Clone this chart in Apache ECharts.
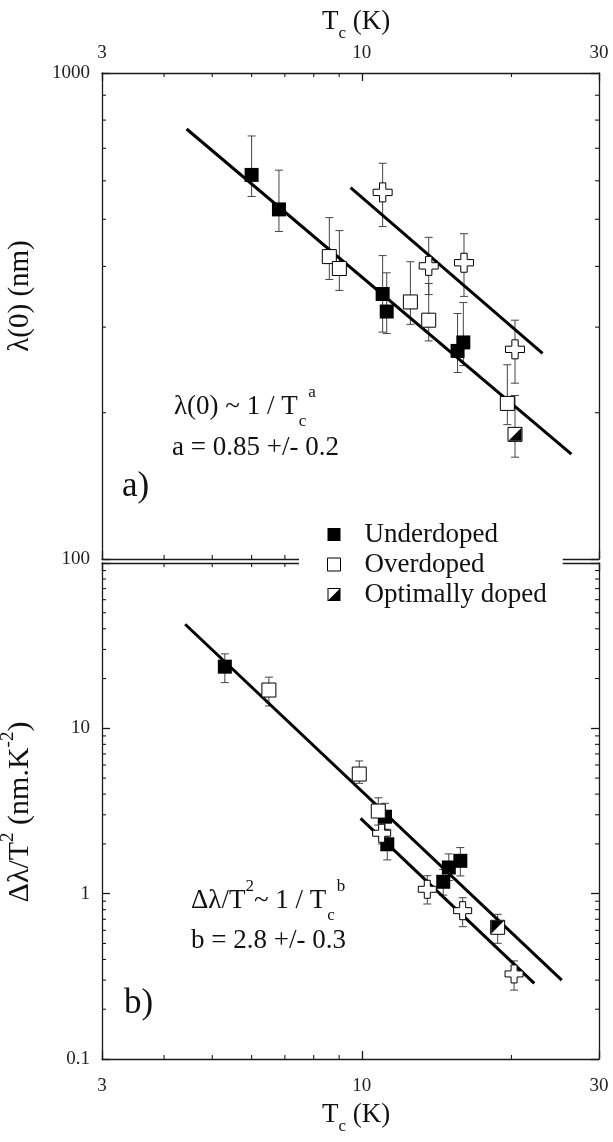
<!DOCTYPE html>
<html><head><meta charset="utf-8">
<script src="https://cdn.jsdelivr.net/npm/echarts@6/dist/echarts.min.js"></script>
<style>html,body{margin:0;padding:0;background:#fff}#c{width:613px;height:1142px}</style>
</head><body><div id="c"></div>
<script>
// ===== Panel a) : lambda(0) (nm) vs Tc (K) =====
const topUnderTc  = [6.00, 6.81, 11.01, 11.22, 15.58, 16.00];
const topUnderVal = [617, 524, 351, 323, 268, 279];
const topUnderLo  = [557, 472, 293, 291, 242, 250];
const topUnderHi  = [742, 631, 421, 388, 320, 337];

const topOverTc  = [8.60, 9.01, 12.52, 13.63, 19.62];
const topOverVal = [419, 396, 338, 310, 209];
const topOverLo  = [376, 357, 304, 281, 189];
const topOverHi  = [504, 474, 409, 369, 251];

const topOptTc  = [20.33];
const topOptVal = [180.5];
const topOptLo  = [162];
const topOptHi  = [217];

const topCrossTc  = [11.01, 13.63, 16.05, 20.33];
const topCrossVal = [568, 401, 407, 270];
const topCrossLo  = [483, 350, 347, 230];
const topCrossHi  = [652, 459, 467, 310];

const topFit1Tc = [4.44, 26.4],  topFit1Val = [767, 164.4];
const topFit2Tc = [9.49, 23.1],  topFit2Val = [581, 265];

// ===== Panel b) : d(lambda)/T^2 (nm.K^-2) vs Tc (K) =====
const botUnderTc  = [5.30, 11.13, 11.25, 14.58, 14.96, 15.78];
const botUnderVal = [23.6, 2.92, 1.99, 1.18, 1.44, 1.58];
const botUnderLo  = [18.9, 2.45, 1.60, 0.98, 1.20, 1.28];
const botUnderHi  = [28.2, 3.52, 2.45, 1.40, 1.74, 1.90];

const botOverTc  = [6.50, 9.88, 10.79];
const botOverVal = [17.05, 5.29, 3.16];
const botOverLo  = [13.65, 4.65, 2.60];
const botOverHi  = [20.4, 6.35, 3.80];

const botOptTc  = [18.76];
const botOptVal = [0.626];
const botOptLo  = [0.501];
const botOptHi  = [0.750];

const botCrossTc  = [10.96, 13.54, 15.95, 20.24];
const botCrossVal = [2.32, 1.063, 0.789, 0.327];
const botCrossLo  = [2.00, 0.866, 0.631, 0.261];
const botCrossHi  = [2.70, 1.284, 0.945, 0.392];

const botFit1Tc = [4.41, 25.24], botFit1Val = [42.6, 0.300];
const botFit2Tc = [9.94, 22.23], botFit2Val = [2.856, 0.287];

// ===== axis ranges and minor tick values =====
const xRange = [3, 30];
const topYRange = [100, 1000];
const botYRange = [0.1, 100];
const xMinorTicks = [4, 5, 6, 7, 8, 9, 20];
const topYMinorTicks = [200, 300, 400, 500, 600, 700, 800, 900];
const botYMinorTicks = [0.2, 0.3, 0.4, 0.5, 0.6, 0.7, 0.8, 0.9, 2, 3, 4, 5, 6, 7, 8, 9, 20, 30, 40, 50, 60, 70, 80, 90];

// ===== helpers =====
const SERIF = '"Liberation Serif", "Times New Roman", serif';
const INK = '#111';
const axLine = {color: '#1a1a1a', width: 1.3};
const pts = (tc, v) => tc.map((t, i) => [t, v[i]]);
const bars = (tc, lo, hi) => tc.map((t, i) => [t, lo[i], hi[i]]);

function xAx(grid, pos, showLabel, margin) {
  return {gridIndex: grid, type: 'log', logBase: 10, min: xRange[0], max: xRange[1], position: pos,
    axisLine: {show: true, onZero: false, lineStyle: axLine},
    axisTick: {show: true, inside: true, length: 8, lineStyle: axLine},
    minorTick: {show: false}, splitLine: {show: false},
    axisLabel: {show: showLabel, margin: margin, color: '#222', fontFamily: SERIF, fontSize: 19}};
}
function yAx(grid, pos, range, showLabel, hide100) {
  return {gridIndex: grid, type: 'log', logBase: 10, min: range[0], max: range[1], position: pos,
    axisLine: {show: true, onZero: false, lineStyle: axLine},
    axisTick: {show: true, inside: true, length: 8, lineStyle: axLine},
    minorTick: {show: false}, splitLine: {show: false},
    axisLabel: {show: showLabel, margin: 12, color: '#222', fontFamily: SERIF, fontSize: 19,
      formatter: v => (hide100 && Math.abs(v - 100) < 1e-6) ? '' : String(v)}};
}

function errSeries(xi, yi, data) {
  return {type: 'custom', xAxisIndex: xi, yAxisIndex: yi, z: 1, silent: true,
    encode: {x: 0, y: [1, 2]}, data: data,
    renderItem(params, api) {
      const x = api.value(0);
      const a = api.coord([x, api.value(1)]);
      const b = api.coord([x, api.value(2)]);
      const c = 4, st = {stroke: '#444', lineWidth: 1};
      return {type: 'group', children: [
        {type: 'line', shape: {x1: a[0], y1: a[1], x2: b[0], y2: b[1]}, style: st},
        {type: 'line', shape: {x1: a[0] - c, y1: a[1], x2: a[0] + c, y2: a[1]}, style: st},
        {type: 'line', shape: {x1: b[0] - c, y1: b[1], x2: b[0] + c, y2: b[1]}, style: st}
      ]};
    }};
}

function minorTickSeries(xi, yi, yRange, yTicks) {
  const data = xMinorTicks.map(v => [v, yRange[0], 0]).concat(yTicks.map(v => [xRange[0], v, 1]));
  return {type: 'custom', xAxisIndex: xi, yAxisIndex: yi, z: 1, silent: true, clip: false,
    encode: {x: 0, y: 1}, data: data,
    renderItem(params, api) {
      const kind = api.value(2), len = 4, st = {stroke: '#1a1a1a', lineWidth: 1.1};
      if (kind === 0) {
        const v = api.value(0);
        const t = api.coord([v, yRange[1]]), b = api.coord([v, yRange[0]]);
        return {type: 'group', children: [
          {type: 'line', shape: {x1: t[0], y1: t[1], x2: t[0], y2: t[1] + len}, style: st},
          {type: 'line', shape: {x1: b[0], y1: b[1], x2: b[0], y2: b[1] - len}, style: st}]};
      }
      const v = api.value(1);
      const l = api.coord([xRange[0], v]), r = api.coord([xRange[1], v]);
      return {type: 'group', children: [
        {type: 'line', shape: {x1: l[0], y1: l[1], x2: l[0] + len, y2: l[1]}, style: st},
        {type: 'line', shape: {x1: r[0], y1: r[1], x2: r[0] - len, y2: r[1]}, style: st}]};
    }};
}

const CROSS = 'path://M1,0 L2,0 L2,1 L3,1 L3,2 L2,2 L2,3 L1,3 L1,2 L0,2 L0,1 L1,1 Z';
const TRI_LR = 'path://M1,0 L1,1 L0,1 Z';
const TRI_UL = 'path://M0,0 L1,0 L0,1 Z';
const OPT_ICON = 'path://M0,0 L13,0 L13,13 L0,13 Z M1,1 L1,12 L12,12 L12,1 Z M12,1 L12,12 L1,12 Z';

function fitLine(xi, yi, tc, v) {
  return {type: 'line', xAxisIndex: xi, yAxisIndex: yi, z: 2, silent: true, symbol: 'none',
    data: pts(tc, v), lineStyle: {color: '#000', width: 3}};
}
function scat(name, xi, yi, data, symbol, size, fill, z) {
  return {type: 'scatter', name: name, xAxisIndex: xi, yAxisIndex: yi, z: z || 3, silent: true,
    symbol: symbol, symbolSize: size, data: data,
    itemStyle: fill === '#000' ? {color: '#000', borderWidth: 0, opacity: 1}
                                : {color: '#fff', borderColor: '#000', borderWidth: 1, opacity: 1}};
}

function panelSeries(xi, yi, d, yRange, yTicks, triSym, crossSize) {
  return [
    minorTickSeries(xi, yi, yRange, yTicks),
    errSeries(xi, yi, bars(d.uTc, d.uLo, d.uHi)),
    errSeries(xi, yi, bars(d.oTc, d.oLo, d.oHi)),
    errSeries(xi, yi, bars(d.pTc, d.pLo, d.pHi)),
    errSeries(xi, yi, bars(d.cTc, d.cLo, d.cHi)),
    fitLine(xi, yi, d.f1Tc, d.f1V),
    fitLine(xi, yi, d.f2Tc, d.f2V),
    scat('Underdoped', xi, yi, pts(d.uTc, d.uV), 'rect', 14, '#000'),
    scat('Overdoped', xi, yi, pts(d.oTc, d.oV), 'rect', 14, '#fff'),
    scat('crosses', xi, yi, pts(d.cTc, d.cV), CROSS, crossSize, '#fff'),
    scat('Optimally doped', xi, yi, pts(d.pTc, d.pV), 'rect', 14, '#fff'),
    scat('optHalf', xi, yi, pts(d.pTc, d.pV), triSym, 13, '#000', 4)
  ];
}

const topD = {uTc: topUnderTc, uV: topUnderVal, uLo: topUnderLo, uHi: topUnderHi,
  oTc: topOverTc, oV: topOverVal, oLo: topOverLo, oHi: topOverHi,
  pTc: topOptTc, pV: topOptVal, pLo: topOptLo, pHi: topOptHi,
  cTc: topCrossTc, cV: topCrossVal, cLo: topCrossLo, cHi: topCrossHi,
  f1Tc: topFit1Tc, f1V: topFit1Val, f2Tc: topFit2Tc, f2V: topFit2Val};
const botD = {uTc: botUnderTc, uV: botUnderVal, uLo: botUnderLo, uHi: botUnderHi,
  oTc: botOverTc, oV: botOverVal, oLo: botOverLo, oHi: botOverHi,
  pTc: botOptTc, pV: botOptVal, pLo: botOptLo, pHi: botOptHi,
  cTc: botCrossTc, cV: botCrossVal, cLo: botCrossLo, cHi: botCrossHi,
  f1Tc: botFit1Tc, f1V: botFit1Val, f2Tc: botFit2Tc, f2V: botFit2Val};

// rich text pieces
const M = fs => ({fontFamily: SERIF, fontSize: fs, fill: INK, lineHeight: 46});
const SUB = {fontFamily: SERIF, fontSize: 17, fill: INK, lineHeight: 18, verticalAlign: 'bottom', padding: [0, 2, 0, 1]};
const SUP = {fontFamily: SERIF, fontSize: 17, fill: INK, lineHeight: 28, verticalAlign: 'top'};
const TSUB = {fontFamily: SERIF, fontSize: 17, fill: INK, lineHeight: 20, verticalAlign: 'bottom'};
function txt(text, x, y, rich, extra) {
  return Object.assign({type: 'text', x: x, y: y, silent: true, z: 10,
    style: {text: text, rich: rich, fontFamily: SERIF, fontSize: 27, fill: INK, align: 'left', verticalAlign: 'middle'}}, extra || {});
}

const option = {
  animation: false,
  backgroundColor: '#fff',
  grid: [
    {left: 102, right: 14, top: 73, height: 486},
    {left: 102, right: 14, top: 563, height: 496}
  ],
  xAxis: [xAx(0, 'top', true, 10), xAx(0, 'bottom', false, 8), xAx(1, 'bottom', true, 18), xAx(1, 'top', false, 8)],
  yAxis: [yAx(0, 'left', topYRange, true, false), yAx(0, 'right', topYRange, false, false),
          yAx(1, 'left', botYRange, true, true), yAx(1, 'right', botYRange, false, false)],
  legend: {orient: 'vertical', left: 299, top: 513, padding: [8, 16, 8, 28], backgroundColor: '#fff',
    itemWidth: 13, itemHeight: 13, itemGap: 3, selectedMode: false,
    textStyle: {fontFamily: SERIF, fontSize: 27, color: INK, lineHeight: 24, padding: [0, 0, 0, 19]},
    data: [
      {name: 'Underdoped', icon: 'rect', itemStyle: {color: '#000', borderWidth: 0}},
      {name: 'Overdoped', icon: 'rect', itemStyle: {color: '#fff', borderColor: '#000', borderWidth: 1}},
      {name: 'Optimally doped', icon: OPT_ICON, itemStyle: {color: '#000', borderWidth: 0}}
    ]},
  series: [].concat(
    panelSeries(0, 0, topD, topYRange, topYMinorTicks, TRI_LR, 19),
    panelSeries(2, 2, botD, botYRange, botYMinorTicks, TRI_UL, 18)
  ),
  graphic: [
    txt('{m|T}{s|c}{m| (K)}', 322, 22, {m: {fontFamily: SERIF, fontSize: 27, fill: INK, lineHeight: 40}, s: TSUB}),
    txt('{m|T}{s|c}{m| (K)}', 322, 1115, {m: {fontFamily: SERIF, fontSize: 27, fill: INK, lineHeight: 40}, s: TSUB}),
    txt('', 20, 296, null,
        {rotation: Math.PI / 2, style: {text: '{m|λ(0) (nm)}', rich: {m: {fontFamily: SERIF, fontSize: 29, fill: INK}}, align: 'center', verticalAlign: 'middle'}}),
    txt('', 20, 812, null,
        {rotation: Math.PI / 2, style: {text: '{m|Δλ/T}{p|2}{m| (nm.K}{p|-2}{m|)}',
          rich: {m: {fontFamily: SERIF, fontSize: 30, fill: INK, lineHeight: 42},
                 p: {fontFamily: SERIF, fontSize: 19, fill: INK, lineHeight: 24, verticalAlign: 'top'}},
          align: 'center', verticalAlign: 'middle'}}),
    txt('{m|λ(0) ~ 1 / T}{s|c}{p|a}', 174, 407, {m: M(27), s: SUB, p: SUP}),
    txt('{m|a = 0.85 +/- 0.2}', 172, 448, {m: M(27)}),
    txt('{m|Δλ/T}{p|2}{m|~ 1 / T}{s|c}{p|b}', 191, 901, {m: M(27), s: SUB, p: SUP}),
    txt('{m|b = 2.8 +/- 0.3}', 191, 941, {m: M(27)}),
    txt('{m|a)}', 122, 487, {m: {fontFamily: SERIF, fontSize: 35, fill: INK, lineHeight: 40}}),
    txt('{m|b)}', 124, 1004, {m: {fontFamily: SERIF, fontSize: 35, fill: INK, lineHeight: 40}})
  ]
};

const chart = echarts.init(document.getElementById('c'), null, {renderer: 'canvas'});
chart.setOption(option);
</script>
</body></html>
